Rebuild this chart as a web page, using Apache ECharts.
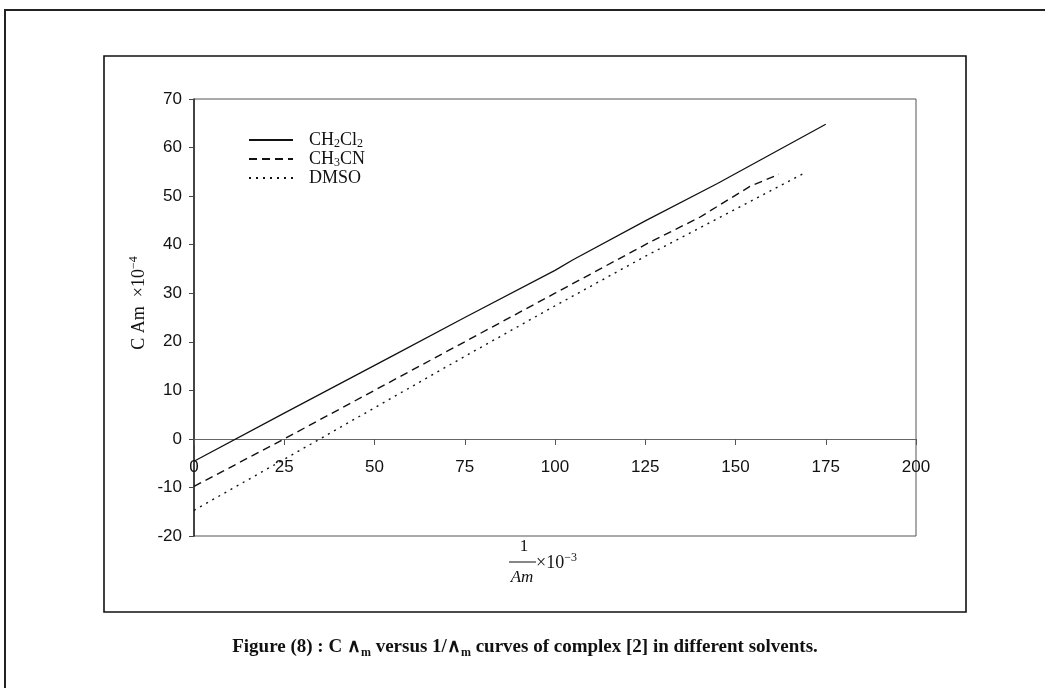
<!DOCTYPE html>
<html>
<head>
<meta charset="utf-8">
<script src="https://cdn.jsdelivr.net/npm/echarts@6/dist/echarts.min.js"></script>
<style>
html,body{margin:0;padding:0;background:#fff;}
#c{width:1045px;height:688px;}
</style>
</head>
<body>
<div id="c"></div>
<script>
// ---- data ----
var seriesNames = ['CH2Cl2', 'CH3CN', 'DMSO'];
var xCH2Cl2 = [0, 25, 55, 75, 100, 105, 125, 145, 175];
var yCH2Cl2 = [-4.6, 5.3, 17.1, 25.0, 34.7, 36.9, 44.9, 52.6, 64.8];
var xCH3CN = [0, 25, 50, 60, 75, 100, 127, 140, 154, 162];
var yCH3CN = [-9.8, 0.0, 10.0, 14.0, 20.0, 30.0, 40.8, 45.6, 52.0, 54.5];
var xDMSO = [0, 25, 50, 75, 100, 125, 150, 169];
var yDMSO = [-14.7, -4.2, 6.4, 17.0, 27.4, 37.6, 47.3, 54.7];
var xTicks = [0, 25, 50, 75, 100, 125, 150, 175, 200];
var yTicks = [-20, -10, 0, 10, 20, 30, 40, 50, 60, 70];

function pairs(xs, ys) { return xs.map(function (x, i) { return [x, ys[i]]; }); }

var legendRich = {
  CH2Cl2: '{n|CH}{s|2}{n|Cl}{s|2}',
  CH3CN: '{n|CH}{s|3}{n|CN}',
  DMSO: '{n|DMSO}'
};

var serif = '"Liberation Serif", "Times New Roman", serif';
var sans = '"Liberation Sans", Arial, sans-serif';

var gridTop = 99, gridBottomPx = 536;
// pixel offset that puts the x axis (line, ticks, labels) on y = 0
var zeroOffset = -Math.round((gridBottomPx - gridTop) * (0 - yTicks[0]) / (yTicks[yTicks.length - 1] - yTicks[0]));

var chart = echarts.init(document.getElementById('c'), null, { renderer: 'canvas' });
chart.setOption({
  animation: false,
  backgroundColor: '#ffffff',
  grid: {
    left: 194, right: 129, top: gridTop, bottom: 688 - gridBottomPx,
    show: true, borderColor: '#555', borderWidth: 1, backgroundColor: 'transparent'
  },
  xAxis: {
    type: 'value', min: xTicks[0], max: xTicks[xTicks.length - 1], interval: 25,
    offset: zeroOffset,
    axisLine: { show: true, onZero: false, lineStyle: { color: '#666', width: 1 } },
    axisTick: { show: true, inside: false, length: 6, lineStyle: { color: '#555' } },
    axisLabel: { margin: 20, color: '#111', fontFamily: sans, fontSize: 17 },
    splitLine: { show: false }
  },
  yAxis: {
    type: 'value', min: yTicks[0], max: yTicks[yTicks.length - 1], interval: 10,
    axisLine: { show: true, lineStyle: { color: '#222', width: 1.5 } },
    axisTick: { show: true, inside: false, length: 5, lineStyle: { color: '#444' } },
    axisLabel: { margin: 12, color: '#111', fontFamily: sans, fontSize: 17 },
    splitLine: { show: false }
  },
  legend: {
    orient: 'vertical', left: 248, top: 131, padding: 0,
    itemWidth: 44, itemHeight: 14, itemGap: 0,
    itemStyle: { opacity: 0 },
    data: seriesNames,
    formatter: function (name) { return legendRich[name]; },
    textStyle: {
      padding: [0, 0, 0, 11],
      color: '#111',
      rich: {
        n: { fontFamily: serif, fontSize: 18, lineHeight: 20, color: '#111' },
        s: { fontFamily: serif, fontSize: 12, lineHeight: 12, verticalAlign: 'bottom', color: '#111' }
      }
    }
  },
  series: [
    {
      name: seriesNames[0], type: 'line', data: pairs(xCH2Cl2, yCH2Cl2), symbol: 'none',
      color: '#111', lineStyle: { color: '#111', width: 1.3, type: 'solid' }
    },
    {
      name: seriesNames[1], type: 'line', data: pairs(xCH3CN, yCH3CN), symbol: 'none',
      color: '#111', lineStyle: { color: '#111', width: 1.4, type: [8, 5] }
    },
    {
      name: seriesNames[2], type: 'line', data: pairs(xDMSO, yDMSO), symbol: 'none',
      color: '#111', lineStyle: { color: '#111', width: 1.4, type: [2, 5] }
    }
  ],
  graphic: [
    { type: 'polyline', silent: true, shape: { points: [[5, 688], [5, 10], [1045, 10]] },
      style: { stroke: '#222', lineWidth: 2, fill: null } },
    { type: 'rect', silent: true, shape: { x: 104, y: 56, width: 862, height: 556 },
      style: { stroke: '#111', lineWidth: 1.6, fill: null } },
    { type: 'text', silent: true, x: 139, y: 303, rotation: Math.PI / 2,
      style: {
        text: '{a|C Am  ×10}{p|−4}', textAlign: 'center', textVerticalAlign: 'middle',
        rich: {
          a: { fontFamily: serif, fontSize: 18, lineHeight: 22, fill: '#111' },
          p: { fontFamily: serif, fontSize: 12, lineHeight: 12, verticalAlign: 'top', fill: '#111' }
        }
      } },
    { type: 'text', silent: true, x: 524, y: 547,
      style: { text: '1', font: '17px ' + serif, fill: '#111', textAlign: 'center', textVerticalAlign: 'middle' } },
    { type: 'line', silent: true, shape: { x1: 509, y1: 562, x2: 536, y2: 562 },
      style: { stroke: '#111', lineWidth: 1 } },
    { type: 'text', silent: true, x: 522, y: 578,
      style: { text: 'Am', font: 'italic 17px ' + serif, fill: '#111', textAlign: 'center', textVerticalAlign: 'middle' } },
    { type: 'text', silent: true, x: 536, y: 563,
      style: {
        text: '{a|×10}{p|−3}', textAlign: 'left', textVerticalAlign: 'middle',
        rich: {
          a: { fontFamily: serif, fontSize: 18, lineHeight: 22, fill: '#111' },
          p: { fontFamily: serif, fontSize: 12, lineHeight: 12, verticalAlign: 'top', fill: '#111' }
        }
      } },
    { type: 'text', silent: true, x: 525, y: 647,
      style: {
        text: '{a|Figure (8) : C ∧}{s|m}{a| versus 1/∧}{s|m}{a| curves of complex [2] in different solvents.}',
        textAlign: 'center', textVerticalAlign: 'middle',
        rich: {
          a: { fontFamily: serif, fontWeight: 'bold', fontSize: 19, lineHeight: 24, fill: '#111' },
          s: { fontFamily: serif, fontWeight: 'bold', fontSize: 12, lineHeight: 12, verticalAlign: 'bottom', fill: '#111' }
        }
      } }
  ]
});
</script>
</body>
</html>
